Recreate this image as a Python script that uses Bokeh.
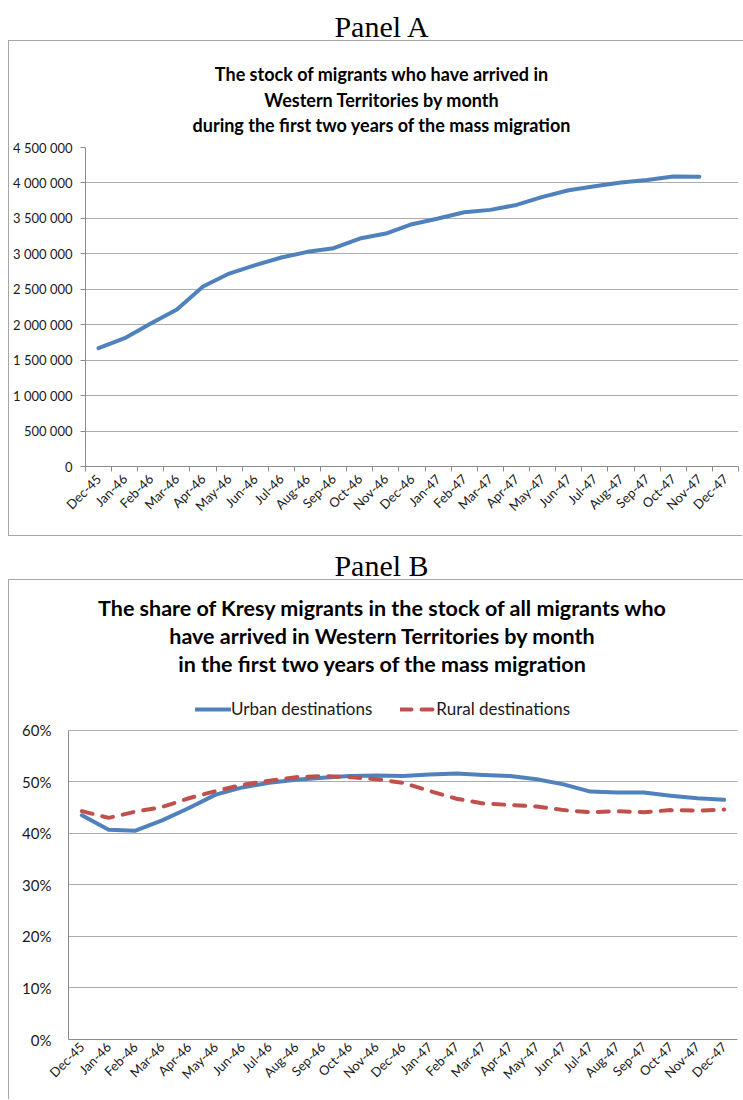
import math
from bokeh.plotting import figure
from bokeh.models import (FixedTicker, CustomJSTickFormatter, Range1d, Div,
                          Legend, LegendItem)
from bokeh.layouts import column
from bokeh.embed import file_html
from bokeh.resources import INLINE

NaN = float("nan")

months = ["Dec-45", "Jan-46", "Feb-46", "Mar-46", "Apr-46", "May-46", "Jun-46",
          "Jul-46", "Aug-46", "Sep-46", "Oct-46", "Nov-46", "Dec-46", "Jan-47",
          "Feb-47", "Mar-47", "Apr-47", "May-47", "Jun-47", "Jul-47", "Aug-47",
          "Sep-47", "Oct-47", "Nov-47", "Dec-47"]

stock = [1669000, 1810000, 2017000, 2214000, 2539000, 2722000, 2840000,
         2948000, 3028000, 3080000, 3216000, 3286000, 3418000, 3498000,
         3587000, 3620000, 3690000, 3803000, 3897000, 3954000, 4006000,
         4043000, 4090000, 4086000, NaN]

urban = [43.5, 40.7, 40.5, 42.5, 44.9, 47.5, 48.9, 49.8, 50.4, 50.8, 51.1, 51.2,
         51.1, 51.4, 51.6, 51.3, 51.1, 50.5, 49.5, 48.1, 47.9, 47.9, 47.3, 46.8, 46.5]

rural = [44.3, 43.0, 44.2, 45.1, 46.8, 48.2, 49.4, 50.2, 50.9, 51.1, 50.9, 50.5,
         49.8, 48.2, 46.7, 45.8, 45.5, 45.2, 44.5, 44.1, 44.3, 44.1, 44.5, 44.4, 44.6]

yticks_a = [0, 500000, 1000000, 1500000, 2000000, 2500000, 3000000, 3500000, 4000000, 4500000]
yticks_b = [0, 10, 20, 30, 40, 50, 60]

panel_names = ["Panel A", "Panel B"]
title_a_lines = ["The stock of migrants who have arrived in",
                 "Western Territories by month",
                 "during the first two years of the mass migration"]
title_b_lines = ["The share of Kresy migrants in the stock of all migrants who",
                 "have arrived in Western Territories by month",
                 "in the first two years of the mass migration"]
series_names = ["Urban destinations", "Rural destinations"]

BLUE = "#4F81BD"
RED = "#C0504D"
GRID = "#acacac"
AXIS = "#8c8c8c"
BOX = "#a6a6a6"
FONT = "Lato"
W = 735  # box width (from x=8 to the window edge)

x = list(range(len(months)))
labels = {i: m for i, m in enumerate(months)}


def header(panel, lines, height, panel_top, box_top, title_top, title_size,
           title_lh, title_left, title_w):
    html = (
        '<div style="position:relative;width:%dpx;height:%dpx;">'
        '<div style="position:absolute;left:223.5px;top:%spx;width:300px;text-align:center;'
        'font-family:\'Liberation Serif\';font-size:30px;line-height:40px;color:black;'
        'white-space:nowrap;">%s</div>'
        '<div style="position:absolute;left:0;top:%dpx;width:%dpx;height:%dpx;box-sizing:border-box;'
        'border-top:1px solid %s;border-left:1px solid %s;"></div>'
        '<div style="position:absolute;left:%spx;top:%spx;width:%dpx;text-align:center;'
        'font-family:Lato;font-weight:bold;font-size:%s;line-height:%spx;color:black;'
        'white-space:nowrap;">%s</div></div>'
    ) % (W, height, panel_top, panel, box_top, W, height - box_top, BOX, BOX,
         title_left, title_top, title_w, title_size, title_lh, "<br>".join(lines))
    return Div(text=html, width=W, height=height, margin=(0, 0, 0, 8))


def style_common(p):
    p.frame_align = False
    p.background_fill_color = "white"
    p.border_fill_color = "white"
    p.outline_line_color = None
    p.xgrid.grid_line_color = None
    p.ygrid.grid_line_color = GRID
    p.ygrid.grid_line_width = 1
    p.x_range = Range1d(-0.5, len(months) - 0.5)
    p.xaxis.ticker = FixedTicker(ticks=x, minor_ticks=[i - 0.5 for i in range(len(months) + 1)])
    p.xaxis.major_label_overrides = labels
    p.xaxis.major_label_orientation = math.pi / 4
    p.xaxis.major_tick_out = 0
    p.xaxis.major_tick_in = 0
    p.xaxis.axis_line_color = AXIS
    p.yaxis.axis_line_color = AXIS
    p.xaxis.major_label_text_font = FONT
    p.yaxis.major_label_text_font = FONT
    p.xaxis.major_label_text_color = "#1a1a1a"
    p.yaxis.major_label_text_color = "#1a1a1a"
    p.yaxis.minor_tick_line_color = None
    p.xaxis.major_label_text_font_size = "13px"


# ---------------- Panel A ----------------
div_a = header(panel_names[0], title_a_lines, 136, 7, 40, 62, "18px", 25.6, 73.5, 600)

pa = figure(width=W - 1, height=400, output_backend="svg", toolbar_location=None,
            title=None, y_range=Range1d(0, 4500000),
            min_border_left=76, min_border_right=5, min_border_top=11,
            min_border_bottom=70, margin=(0, 0, 0, 8),
            styles={"border-left": "1px solid " + BOX, "border-bottom": "1px solid " + BOX})
style_common(pa)
pa.yaxis.ticker = FixedTicker(ticks=yticks_a)
pa.yaxis.formatter = CustomJSTickFormatter(
    code="return tick.toFixed(0).replace(/\\B(?=(\\d{3})+(?!\\d))/g, ' ');")
pa.yaxis.major_tick_out = 5
pa.yaxis.major_tick_in = 0
pa.yaxis.major_tick_line_color = AXIS
pa.yaxis.major_label_standoff = 8
pa.xaxis.minor_tick_out = 5
pa.xaxis.minor_tick_in = 0
pa.xaxis.minor_tick_line_color = AXIS
pa.yaxis.major_label_text_font_size = "13px"
pa.line(x, stock, line_color=BLUE, line_width=4, line_join="round", line_cap="round")

# ---------------- Panel B ----------------
div_b = header(panel_names[1], title_b_lines, 148, 10, 43, 58.4, "21.5px", 28, 24, 700)

# the frame reaches up to the legend row; the axis itself stops at 60 %
pb = figure(width=W - 1, height=415, output_backend="svg", toolbar_location=None,
            title=None, y_range=Range1d(0, 67.9),
            min_border_left=59, min_border_right=6, min_border_top=5,
            min_border_bottom=60, margin=(0, 0, 0, 8),
            styles={"border-left": "1px solid " + BOX})
style_common(pb)
pb.yaxis.ticker = FixedTicker(ticks=yticks_b)
pb.yaxis.bounds = (yticks_b[0], yticks_b[-1])
pb.yaxis.formatter = CustomJSTickFormatter(code="return tick.toFixed(0) + '%';")
pb.yaxis.major_tick_out = 0
pb.yaxis.major_tick_in = 0
pb.yaxis.major_label_standoff = 17
pb.xaxis.minor_tick_out = 0
pb.xaxis.minor_tick_in = 0
pb.yaxis.major_label_text_font_size = "15px"
r_u = pb.line(x, urban, line_color=BLUE, line_width=4, line_join="round", line_cap="round")
r_r = pb.line(x, rural, line_color=RED, line_width=4, line_join="round", line_cap="round",
              line_dash="11 10")

legend = Legend(items=[LegendItem(label=series_names[0], renderers=[r_u]),
                       LegendItem(label=series_names[1], renderers=[r_r])],
                orientation="horizontal", location=(127, 320),
                glyph_width=36, glyph_height=18, label_standoff=0, spacing=28,
                padding=0, margin=0, border_line_color=None, background_fill_alpha=0,
                label_text_font=FONT, label_text_font_size="17px",
                label_text_color="#1a1a1a")
pb.add_layout(legend, "center")

layout = column(div_a, pa, div_b, pb)
open("out.html", "w").write(file_html(layout, INLINE))
